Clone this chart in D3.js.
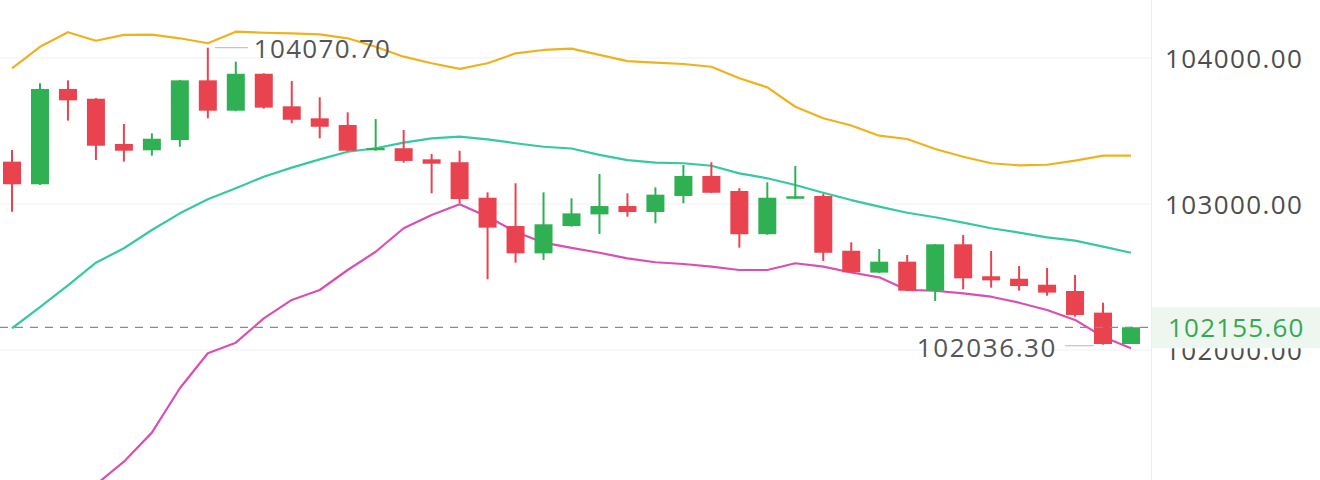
<!DOCTYPE html>
<html><head><meta charset="utf-8">
<script src="https://cdn.jsdelivr.net/npm/d3@7"></script>
<style>html,body{margin:0;padding:0;background:#fff;}svg{display:block;}</style>
</head><body>
<svg id="chart" width="1320" height="480"></svg>
<script>
const categories = d3.range(1, 42).map(String);
const openVals  = [103290,103135,103788,103721,103411,103368,103438,103847,103639,103892,103669,103587,103541,103368,103382,103306,103286,103043,102849,102662,102849,102929,102986,102945,103055,103192,103089,102793,103036,103055,102680,102530,102605,102406,102724,102505,102488,102447,102404,102256,102041];
const highVals  = [103370,103827,103847,103725,103548,103484,103850,104070.7,103975,103895,103842,103731,103628,103582,103507,103343,103365,103080,103142,103080,103039,103206,103073,103114,103267,103286,103108,103149,103260,103069,102738,102692,102651,102726,102788,102678,102575,102562,102514,102324,102160];
const lowVals   = [102947,103130,103571,103301,103290,103331,103392,103587,103635,103653,103553,103450,103362,103365,103283,103073,103005,102484,102598,102617,102845,102795,102913,102868,103005,103075,102701,102790,103034,102610,102530,102528,102404,102336,102416,102427,102406,102372,102228,102036.3,102041];
const closeVals = [103135,103788,103710,103399,103365,103447,103847,103639,103892,103660,103577,103529,103365,103384,103295,103276,103034,102838,102662,102861,102936,102986,102945,103064,103192,103077,102793,103043,103053,102666,102532,102605,102406,102724,102491,102477,102438,102393,102240,102041,102155.6];
const bollUpper = [103929,104077,104176,104118,104158,104160,104135,104101,104180,104173,104169,104162,104135,104077,104009,103964,103925,103964,104032,104055,104064,104021,103979,103968,103959,103940,103861,103799,103666,103587,103538,103468,103445,103377,103324,103279,103265,103269,103297,103331,103331];
const bollMid   = [102149,102293,102443,102598,102697,102822,102936,103032,103108,103187,103249,103306,103358,103382,103420,103450,103461,103443,103416,103392,103380,103336,103301,103283,103279,103262,103210,103176,103130,103077,103027,102982,102940,102909,102872,102834,102804,102771,102749,102708,102666];
const bollLower = [100368,100507,100710,101078,101235,101434,101738,101978,102050,102217,102343,102411,102548,102673,102834,102925,102998,102913,102810,102735,102699,102666,102628,102601,102589,102571,102548,102548,102594,102571,102531,102498,102411,102406,102388,102365,102324,102274,102206,102091,102012];
const yTicks = [102000, 103000, 104000];
const lastPrice = 102155.60;
const maxLabel = "104070.70";
const minLabel = "102036.30";

const W = 1320, H = 480, plotRight = 1151;
const svg = d3.select("#chart");
const x = d3.scalePoint().domain(categories).range([12, 1131]);
const y = d3.scaleLinear().domain([102000, 104000]).range([350, 58]);
const FONT = "'Open Sans', Roboto, sans-serif";
const RED = "#e8434f", GREEN = "#2fb153";

svg.append("defs").append("clipPath").attr("id","plot")
  .append("rect").attr("x",0).attr("y",0).attr("width",plotRight).attr("height",H);

svg.append("g").selectAll("line").data(yTicks).join("line")
  .attr("x1",0).attr("x2",plotRight)
  .attr("y1",d=>y(d)).attr("y2",d=>y(d))
  .attr("stroke","#f0f1f3").attr("stroke-width",1.2);

svg.append("line").attr("x1",plotRight+0.5).attr("x2",plotRight+0.5).attr("y1",0).attr("y2",H)
  .attr("stroke","#eceef2").attr("stroke-width",1);

const plot = svg.append("g").attr("clip-path","url(#plot)");

const bands = [[bollUpper,"#efb21c"],[bollMid,"#35c9a2"],[bollLower,"#d94fb3"]];
bands.forEach(([arr,col])=>{
  plot.append("path")
    .datum(arr)
    .attr("fill","none").attr("stroke",col).attr("stroke-width",2.2).attr("stroke-linejoin","round")
    .attr("d", d3.line().x((d,i)=>x(categories[i])).y(d=>y(d)));
});

const candles = categories.map((c,i)=>({c,o:openVals[i],h:highVals[i],l:lowVals[i],cl:closeVals[i]}));
const cg = plot.append("g").selectAll("g").data(candles).join("g");
cg.append("line")
  .attr("x1",d=>x(d.c)).attr("x2",d=>x(d.c))
  .attr("y1",d=>y(d.h)).attr("y2",d=>y(d.l))
  .attr("stroke",d=>d.cl>=d.o?GREEN:RED).attr("stroke-width",2);
cg.append("rect")
  .attr("x",d=>x(d.c)-9).attr("width",18)
  .attr("y",d=>y(Math.max(d.o,d.cl)))
  .attr("height",d=>Math.max(2,Math.abs(y(d.o)-y(d.cl))))
  .attr("fill",d=>d.cl>=d.o?GREEN:RED);

svg.append("line").attr("x1",0).attr("x2",plotRight)
  .attr("y1",y(lastPrice)).attr("y2",y(lastPrice))
  .attr("stroke","#8a8a8a").attr("stroke-width",1.3).attr("stroke-dasharray","8,7");

const iMax = highVals.indexOf(d3.max(highVals));
const iMin = lowVals.indexOf(d3.min(lowVals));
svg.append("line").attr("x1",x(categories[iMax])+7).attr("x2",x(categories[iMax])+40)
  .attr("y1",y(highVals[iMax])).attr("y2",y(highVals[iMax]))
  .attr("stroke","#c4c4c4").attr("stroke-width",1.2);
svg.append("text").attr("x",x(categories[iMax])+46).attr("y",y(highVals[iMax])).attr("dy","0.4em")
  .attr("font-family",FONT).attr("font-size",26).attr("letter-spacing","1.3px").attr("fill","#555")
  .text(maxLabel);
svg.append("line").attr("x1",x(categories[iMin])-38).attr("x2",x(categories[iMin])-9)
  .attr("y1",y(lowVals[iMin])+1).attr("y2",y(lowVals[iMin])+1)
  .attr("stroke","#c4c4c4").attr("stroke-width",1.2);
svg.append("text").attr("x",x(categories[iMin])-46).attr("y",y(lowVals[iMin])).attr("dy","0.46em")
  .attr("text-anchor","end")
  .attr("font-family",FONT).attr("font-size",26).attr("letter-spacing","1.6px").attr("fill","#555")
  .text(minLabel);

const axis = d3.axisRight(y).tickValues(yTicks).tickFormat(d3.format(".2f")).tickSize(0).tickPadding(14);
const ag = svg.append("g").attr("transform",`translate(${plotRight},0)`).call(axis);
ag.select(".domain").remove();
ag.selectAll("text").attr("font-family",FONT).attr("font-size",26).attr("letter-spacing","1.4px")
  .attr("fill","#4d4d4d").attr("dy","0.36em");

svg.append("rect").attr("x",plotRight+1).attr("y",y(lastPrice)-20).attr("width",W-plotRight-1).attr("height",41)
  .attr("fill","#edf7f0");
svg.append("text").attr("x",plotRight+17).attr("y",y(lastPrice)).attr("dy","0.37em")
  .attr("font-family",FONT).attr("font-size",26).attr("letter-spacing","1.2px").attr("fill","#35a853")
  .text(d3.format(".2f")(lastPrice));
</script>
</body></html>
